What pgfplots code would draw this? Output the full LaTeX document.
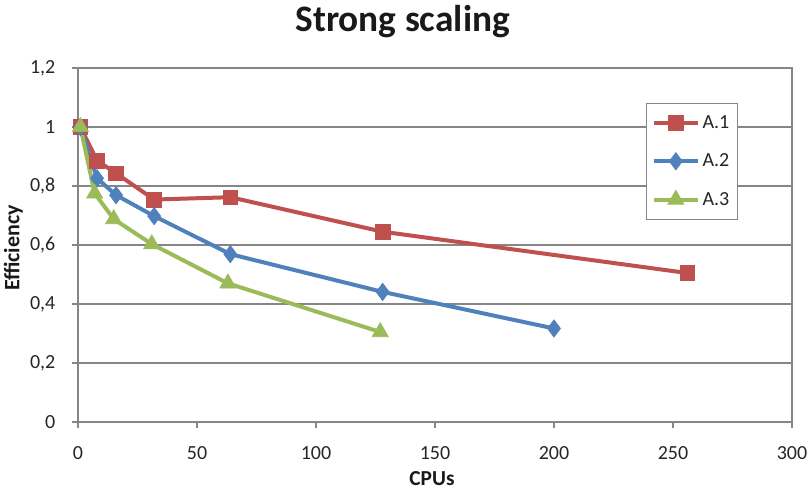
\documentclass[border=0pt]{standalone}
\usepackage{fontspec}
\setmainfont{Carlito}
\usepackage{pgfplots}
\pgfplotsset{compat=1.18}
\definecolor{cred}{HTML}{C0504D}
\definecolor{cblue}{HTML}{4F81BD}
\definecolor{cgreen}{HTML}{9BBB59}
\definecolor{cgrid}{HTML}{868686}
\begin{document}
\begin{tikzpicture}
\useasboundingbox (0,0) rectangle (608.25pt,368.25pt);
\begin{axis}[
  at={(58.5pt,51.75pt)}, anchor=south west,
  scale only axis, width=535.5pt, height=265.5pt,
  xmin=0, xmax=300, ymin=0, ymax=1.2,
  xtick={0,50,100,150,200,250,300},
  ytick={0,0.2,0.4,0.6,0.8,1,1.2},
  yticklabels={0,{0,2},{0,4},{0,6},{0,8},1,{1,2}},
  /pgf/number format/assume math mode=true,
  ymajorgrids,
  grid style={cgrid, line width=0.8pt},
  axis line style={cgrid, line width=0.8pt},
  tick style={cgrid, line width=0.8pt},
  tick align=outside, major tick length=4.5pt,
  xtick pos=bottom, ytick pos=left,
  ticklabel style={font=\fontsize{15}{15}\selectfont, text=black!85},
  xticklabel style={yshift=-10pt},
  yticklabel style={xshift=-9pt},
  legend style={at={(0.7955,0.901)}, anchor=north west, draw=cgrid, line width=0.8pt,
    font=\fontsize{15}{15}\selectfont, row sep=13.5pt, inner xsep=4pt, inner ysep=7pt,
    text=black!85},
  legend cell align=left,
  legend image code/.code={\draw[#1, mark repeat=2, mark phase=2] plot coordinates {(0pt,0pt) (16.5pt,0pt) (33pt,0pt)};},
]
\addplot[cred, line width=3pt, mark=square*, mark size=5.5pt, mark options={solid, line width=0.5pt}]
  coordinates {(1,1) (8,0.886) (16,0.843) (32,0.754) (64,0.762) (128,0.645) (256,0.505)};
\addlegendentry{A.1}
\addplot[cblue, line width=3pt, mark=diamond*, mark size=6.5pt, mark options={solid, line width=0.5pt}]
  coordinates {(1,1) (8,0.826) (16,0.769) (32,0.698) (64,0.569) (128,0.441) (200,0.317)};
\addlegendentry{A.2}
\addplot[cgreen, line width=3pt, mark=triangle*, mark size=7pt, mark options={solid, line width=0.5pt}]
  coordinates {(1,1) (7,0.775) (15,0.688) (31,0.603) (63,0.470) (127,0.305)};
\addlegendentry{A.3}
\end{axis}
\node[font=\fontsize{28}{28}\selectfont\bfseries, text=black!90] at (302pt,352pt) {Strong scaling};
\node[font=\fontsize{16.5}{16.5}\selectfont\bfseries, text=black!90, rotate=90] at (10pt,182.25pt) {Efficiency};
\node[font=\fontsize{16}{16}\selectfont\bfseries, text=black!90] at (324pt,9pt) {CPUs};
\end{tikzpicture}
\end{document}
